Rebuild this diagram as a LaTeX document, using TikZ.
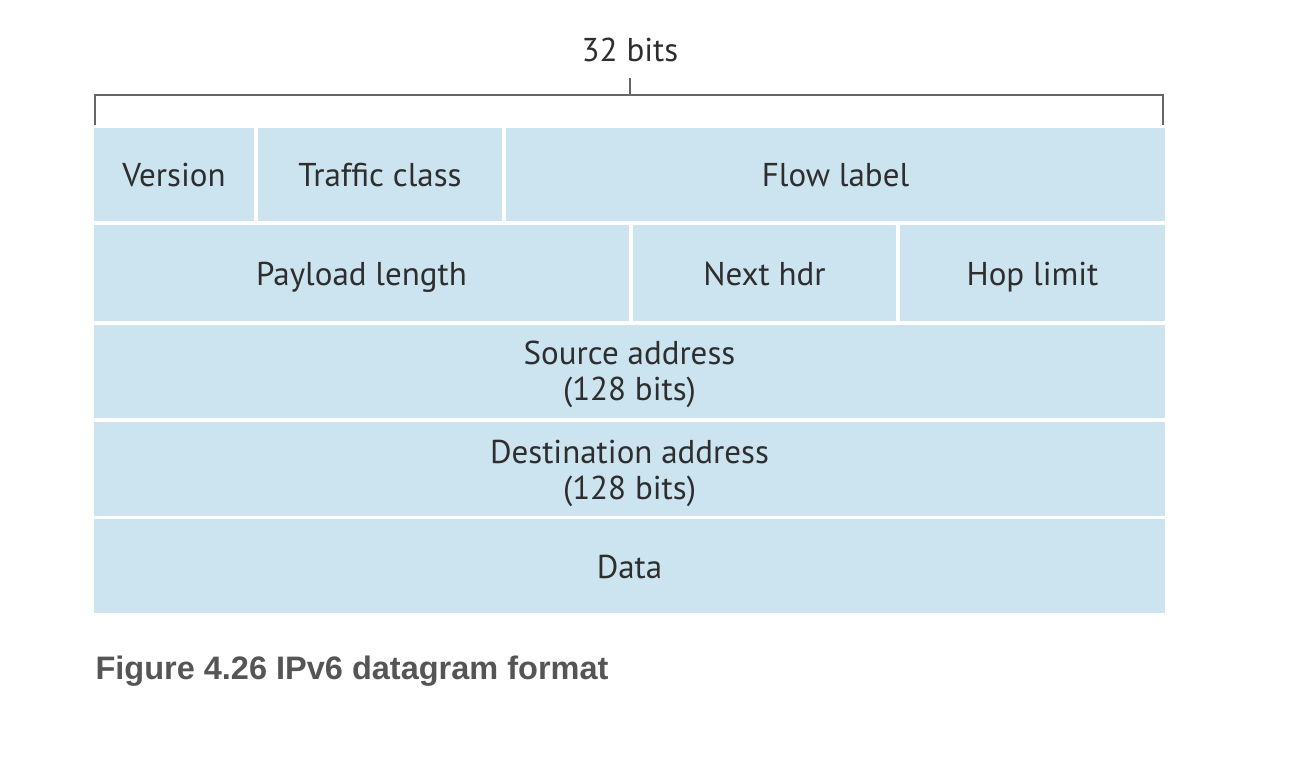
\documentclass[tikz,border=0pt]{standalone}
\usepackage{fontspec}
\setmainfont{PT Sans}
\newfontfamily\capfont{Liberation Sans}
\definecolor{cellblue}{HTML}{CCE3F0}
\definecolor{txtgray}{HTML}{2E2E2E}
\definecolor{capgray}{HTML}{555555}
\definecolor{brgray}{HTML}{666666}
\begin{document}
\begin{tikzpicture}[x=1pt,y=-1pt,
  cell/.style={fill=cellblue, inner sep=0pt, anchor=center, text=txtgray,
    font=\fontsize{33}{36}\selectfont, align=center},
  one/.style={cell, text height=32pt, text depth=7pt},
  bracket/.style={draw=brgray, line width=1.8pt}]
\useasboundingbox (0,0) rectangle (1290,762);
% bracket
\node[text=txtgray, font=\fontsize{33}{36}\selectfont] (bits) at (630,50) {32 bits};
\coordinate (bl) at (95,125);
\coordinate (blt) at (95,95);
\coordinate (brt) at (1163,95);
\coordinate (br) at (1163,125);
\coordinate (bm) at (630,95);
\coordinate (bmt) at (630,78);
\draw[bracket] (bl) -- (blt) -- (brt) -- (br);
\draw[bracket] (bm) -- (bmt);
% row 1
\node[one, minimum width=160pt, minimum height=93pt] (ver) at (174,174.5) {Version};
\node[one, minimum width=244pt, minimum height=93pt] (tc) at (380,174.5) {Traffic class};
\node[one, minimum width=659pt, minimum height=93pt] (fl) at (835.5,174.5) {Flow label};
% row 2
\node[one, minimum width=535pt, minimum height=96pt] (pl) at (361.5,273) {Payload length};
\node[one, minimum width=263pt, minimum height=96pt] (nh) at (764.5,273) {Next hdr};
\node[one, minimum width=265pt, minimum height=96pt] (hl) at (1032.5,273) {Hop limit};
% rows 3-5
\node[cell, minimum width=1071pt, minimum height=93pt] (src) at (629.5,371.5) {};
\node[text=txtgray, font=\fontsize{33}{36}\selectfont, align=center] (srct) at (629.5,374) {Source address\\(128 bits)};
\node[cell, minimum width=1071pt, minimum height=94pt] (dst) at (629.5,469) {};
\node[text=txtgray, font=\fontsize{33}{36}\selectfont, align=center] (dstt) at (629.5,473) {Destination address\\(128 bits)};
\node[one, minimum width=1071pt, minimum height=94pt] (data) at (629.5,566) {Data};
% caption
\node[anchor=west, text=capgray, font=\capfont\bfseries\fontsize{32.5}{36}\selectfont] (cap) at (92,671) {Figure 4.26 IPv6 datagram format};
\end{tikzpicture}
\end{document}
